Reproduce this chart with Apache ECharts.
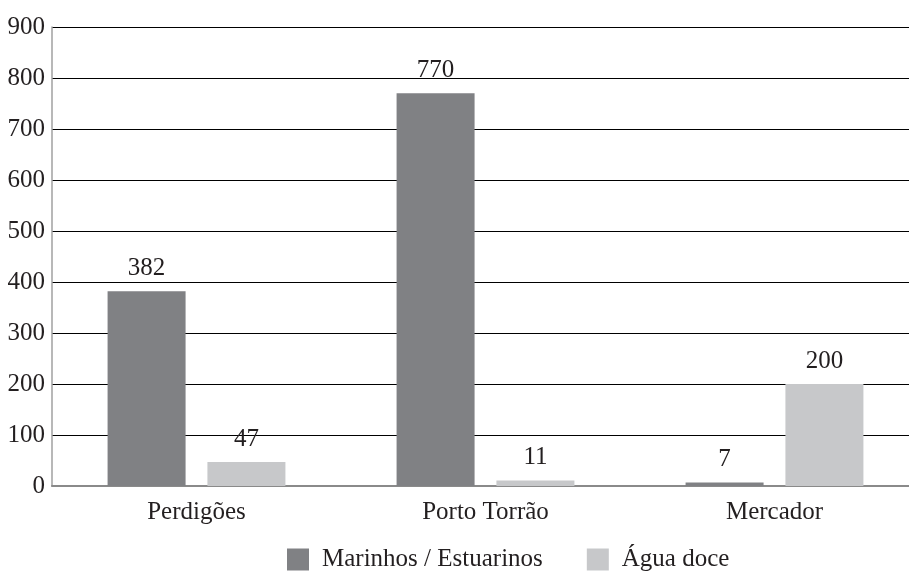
<!DOCTYPE html>
<html>
<head>
<meta charset="utf-8">
<script src="https://cdn.jsdelivr.net/npm/echarts@6/dist/echarts.min.js"></script>
<style>
  html, body { margin: 0; padding: 0; background: #fff; }
  #chart { width: 909px; height: 577px; }
</style>
</head>
<body>
<div id="chart"></div>
<script>
// Sites and counts of remains by habitat
const sites = ['Perdigões', 'Porto Torrão', 'Mercador'];
const marinhos = [382, 770, 7];
const aguaDoce = [47, 11, 200];
const seriesNames = ['Marinhos / Estuarinos', 'Água doce'];
const yTicks = [0, 100, 200, 300, 400, 500, 600, 700, 800, 900];

const FONT = 'Liberation Serif';
const TXT = '#231f20';

const chart = echarts.init(document.getElementById('chart'));

const labelStyle = {
  show: true,
  position: 'top',
  distance: 10,
  fontFamily: FONT,
  fontSize: 25,
  color: TXT
};

chart.setOption({
  animation: false,
  textStyle: { fontFamily: FONT },
  grid: {
    left: 52, top: 27, width: 867, height: 459,
    containLabel: false,
    outerBoundsMode: 'none'
  },
  legend: {
    top: 547,
    left: 287,
    padding: 0,
    itemWidth: 22,
    itemHeight: 22,
    itemGap: 44,
    icon: 'rect',
    textStyle: { fontFamily: FONT, fontSize: 25, color: TXT, padding: [0, 0, 0, 8] },
    data: seriesNames
  },
  xAxis: {
    type: 'category',
    data: sites,
    axisLine: { lineStyle: { color: '#8a8a8a', width: 2 } },
    axisTick: { show: false },
    axisLabel: { fontFamily: FONT, fontSize: 25, color: TXT, margin: 14 }
  },
  yAxis: {
    type: 'value',
    min: yTicks[0],
    max: yTicks[yTicks.length - 1],
    interval: 100,
    axisLine: { show: true, lineStyle: { color: '#a0a0a0', width: 1.5 } },
    axisTick: { show: false },
    axisLabel: { fontFamily: FONT, fontSize: 25, color: TXT, margin: 7 },
    splitLine: { lineStyle: { color: '#000', width: 1 } }
  },
  series: [
    {
      name: seriesNames[0],
      type: 'bar',
      data: marinhos,
      barWidth: 78,
      barGap: '28%',
      itemStyle: { color: '#808184' },
      label: labelStyle
    },
    {
      name: seriesNames[1],
      type: 'bar',
      data: aguaDoce,
      barWidth: 78,
      itemStyle: { color: '#c7c8ca' },
      label: labelStyle
    }
  ]
});
</script>
</body>
</html>
